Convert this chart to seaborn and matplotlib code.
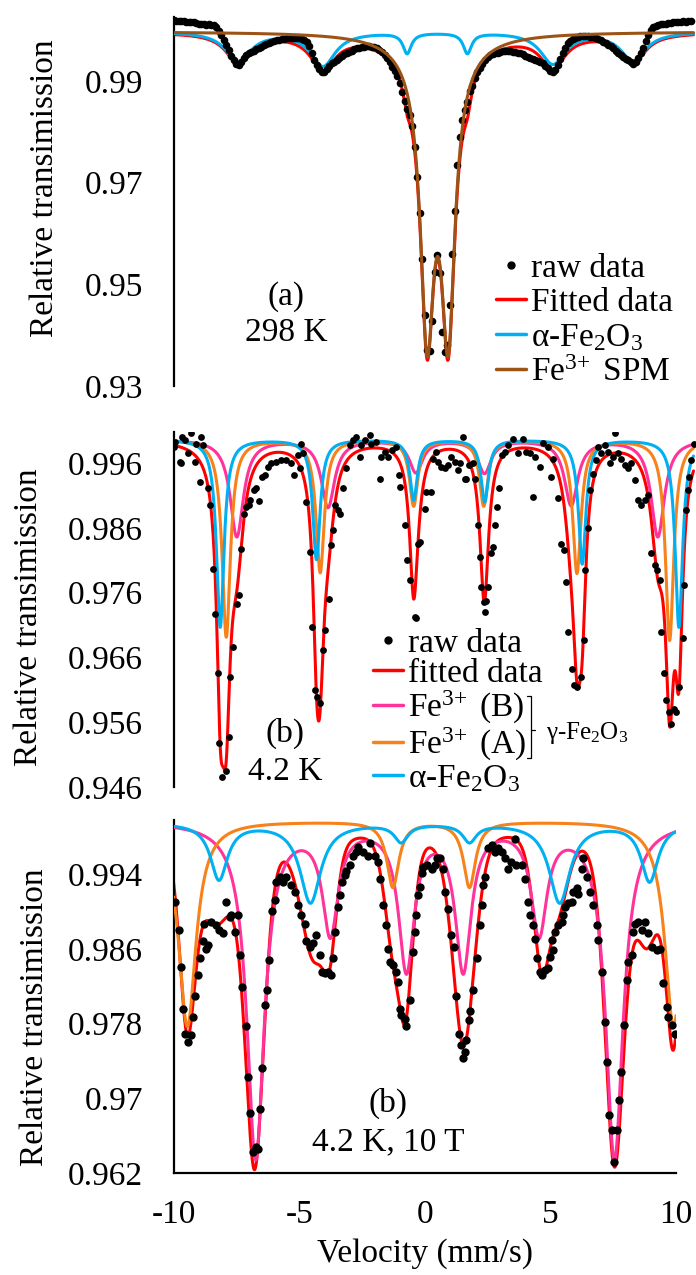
import numpy as np
import matplotlib
matplotlib.use("Agg")
import matplotlib.pyplot as plt
import seaborn as sns
from matplotlib.lines import Line2D

# ---------------- panel (a) : 298 K ----------------
vel_a_start, vel_a_stop = -10.0, 10.6   # 0.1 mm/s channels
trans_a = [
    1.0020, 1.0019, 1.0019, 1.0018, 1.0018, 1.0017, 1.0017, 1.0016, 1.0016, 1.0014,
    1.0013, 1.0013, 1.0012, 1.0011, 1.0012, 1.0011, 1.0010, 1.0006, 0.9999, 0.9991,
    0.9981, 0.9971, 0.9961, 0.9950, 0.9941, 0.9934, 0.9932, 0.9937, 0.9945, 0.9951,
    0.9955, 0.9958, 0.9960, 0.9962, 0.9964, 0.9967, 0.9970, 0.9972, 0.9974, 0.9976,
    0.9978, 0.9980, 0.9981, 0.9983, 0.9983, 0.9984, 0.9984, 0.9985, 0.9984, 0.9984,
    0.9984, 0.9983, 0.9981, 0.9976, 0.9968, 0.9956, 0.9942, 0.9931, 0.9923, 0.9918,
    0.9917, 0.9924, 0.9930, 0.9935, 0.9938, 0.9942, 0.9945, 0.9949, 0.9953, 0.9956,
    0.9958, 0.9960, 0.9962, 0.9964, 0.9965, 0.9966, 0.9967, 0.9968, 0.9968, 0.9967,
    0.9966, 0.9964, 0.9961, 0.9957, 0.9951, 0.9945, 0.9937, 0.9928, 0.9920, 0.9910,
    0.9897, 0.9878, 0.9860, 0.9844, 0.9834, 0.9812, 0.9770, 0.9712, 0.9641, 0.9550,
    0.9440, 0.9370, 0.9368, 0.9428, 0.9525, 0.9558, 0.9522, 0.9406, 0.9366, 0.9380,
    0.9460, 0.9560, 0.9645, 0.9735, 0.9790, 0.9824, 0.9842, 0.9858, 0.9880, 0.9890,
    0.9906, 0.9918, 0.9926, 0.9934, 0.9941, 0.9947, 0.9951, 0.9953, 0.9955, 0.9956,
    0.9958, 0.9959, 0.9960, 0.9960, 0.9959, 0.9958, 0.9957, 0.9956, 0.9955, 0.9953,
    0.9950, 0.9948, 0.9946, 0.9943, 0.9941, 0.9939, 0.9937, 0.9935, 0.9930, 0.9925,
    0.9920, 0.9918, 0.9922, 0.9932, 0.9944, 0.9955, 0.9965, 0.9974, 0.9979, 0.9982,
    0.9984, 0.9986, 0.9988, 0.9989, 0.9989, 0.9988, 0.9987, 0.9986, 0.9984, 0.9982,
    0.9980, 0.9977, 0.9975, 0.9971, 0.9968, 0.9964, 0.9960, 0.9955, 0.9951, 0.9947,
    0.9944, 0.9941, 0.9937, 0.9933, 0.9938, 0.9945, 0.9955, 0.9964, 0.9978, 0.9991,
    1.0000, 1.0007, 1.0009, 1.0011, 1.0012, 1.0012, 1.0013, 1.0014, 1.0015, 1.0016,
    1.0017, 1.0017, 1.0016, 1.0018, 1.0017, 1.0018, 1.0019,
]
base_a = 0.9997
spm_pos = [0.095, 0.935, 0.515]
spm_depth = [0.052, 0.052, 0.006]
spm_fwhm = [0.64, 0.64, 2.4]
hem_a_pos = [-7.42, -4.05, -0.70, 1.70, 5.10, 8.30]
hem_a_depth = [0.0058, 0.0066, 0.0040, 0.0040, 0.0062, 0.0056]
hem_a_fwhm = [1.2, 1.2, 0.4, 0.4, 1.2, 1.2]

# ---------------- panel (b) : 4.2 K ----------------
vel_b = [
    -10.00, -9.93, -9.76, -9.69, -9.65, -9.56, -9.43, -9.30, -9.16, -9.10, -8.96, -8.90,
    -8.83, -8.63, -8.54, -8.43, -8.33, -8.23, -8.17, -8.06, -7.93, -7.81, -7.77, -7.64,
    -7.48, -7.40, -7.30, -7.21, -7.13, -7.00, -6.94, -6.81, -6.71, -6.60, -6.47, -6.37,
    -6.24, -6.11, -5.91, -5.71, -5.51, -5.31, -5.22, -5.05,
    -4.98, -4.91, -4.85, -4.71, -4.58, -4.47, -4.38, -4.29, -4.16, -4.05, -3.96, -3.81,
    -3.72, -3.65, -3.56, -3.45, -3.36, -3.25, -3.12, -2.99, -2.86, -2.72, -2.59, -2.52,
    -2.39, -2.19, -2.12, -1.93, -1.79, -1.73, -1.59, -1.46, -1.29, -1.13, -1.02, -0.97,
    -0.80, -0.70, -0.60, -0.40, -0.33, -0.27, -0.17, 0.00, 0.07, 0.27, 0.33, 0.44,
    0.53, 0.66, 0.80, 0.93, 1.06, 1.20, 1.33, 1.39, 1.53, 1.59, 1.66, 1.76,
    1.92, 1.99, 2.13, 2.19, 2.26, 2.35, 2.39, 2.43, 2.52, 2.62, 2.73, 2.79,
    2.86, 2.97, 3.06, 3.19, 3.33, 3.53, 3.73, 3.92, 4.05, 4.18, 4.32, 4.38,
    4.58, 4.71,
    4.90, 5.03, 5.10, 5.30, 5.43, 5.54, 5.63, 5.72, 5.86, 5.96, 6.07, 6.23,
    6.33, 6.39, 6.52, 6.60, 6.69, 6.83, 6.89, 7.03, 7.16, 7.29, 7.36, 7.49,
    7.56, 7.69, 7.82, 7.96, 8.09, 8.22, 8.36, 8.49, 8.62, 8.75, 8.88, 9.02,
    9.15, 9.25, 9.35, 9.42, 9.52, 9.62, 9.72, 9.81, 9.92, 10.01, 10.14, 10.28,
    10.34, 10.41, 10.48, 10.54, 10.61, 10.71,
]
trans_b = [
    0.9985, 0.9993, 0.9962, 0.9960, 1.0001, 0.9996, 0.9975, 1.0007, 0.9962, 0.9990, 0.9931, 1.0000,
    0.9988, 0.9921, 0.9895, 0.9796, 0.9727, 0.9636, 0.9528, 0.9476, 0.9485, 0.9538, 0.9630, 0.9676,
    0.9742, 0.9757, 0.9828, 0.9882, 0.9893, 0.9895, 0.9903, 0.9918, 0.9921, 0.9902, 0.9939, 0.9941,
    0.9954, 0.9960, 0.9962, 0.9965, 0.9965, 0.9960, 0.9941, 0.9972,
    0.9952, 0.9990, 0.9975, 0.9900, 0.9823, 0.9707, 0.9610, 0.9599, 0.9589, 0.9671, 0.9702, 0.9751,
    0.9833, 0.9857, 0.9895, 0.9887, 0.9882, 0.9921, 0.9952, 0.9988, 0.9996, 1.0001, 0.9970, 0.9988,
    0.9996, 1.0003, 0.9990, 0.9993, 0.9936, 0.9970, 0.9977, 0.9970, 0.9980, 0.9985, 0.9942, 0.9923,
    0.9864, 0.9810, 0.9779, 0.9723, 0.9721, 0.9836, 0.9839, 0.9890, 0.9916, 0.9916, 0.9967, 0.9977,
    0.9962, 0.9954, 0.9952, 0.9957, 0.9970, 0.9962, 0.9949, 0.9960, 1.0001, 0.9936, 0.9936, 0.9957,
    0.9960, 0.9936, 0.9864, 0.9815, 0.9769, 0.9746, 0.9730, 0.9748, 0.9769, 0.9821, 0.9831, 0.9864,
    0.9893, 0.9921, 0.9972, 0.9977, 0.9988, 0.9998, 0.9975, 0.9998, 0.9977, 0.9975, 0.9908, 0.9970,
    0.9954, 0.9991,
    0.9985, 0.9939, 0.9967, 0.9906, 0.9836, 0.9826, 0.9777, 0.9700, 0.9643, 0.9617, 0.9615, 0.9630,
    0.9687, 0.9795, 0.9860, 0.9918, 0.9944, 0.9965, 0.9985, 0.9975, 0.9988, 0.9977, 0.9960, 0.9970,
    1.0006, 0.9975, 0.9967, 0.9957, 0.9952, 0.9960, 0.9934, 0.9903, 0.9895, 0.9903, 0.9911, 0.9821,
    0.9803, 0.9795, 0.9780, 0.9700, 0.9636, 0.9594, 0.9576, 0.9558, 0.9580, 0.9576, 0.9615, 0.9690,
    0.9772, 0.9887, 0.9918, 0.9939, 0.9965, 0.9990,
]
base_b = 0.9997
hem_b_pos = [-8.14, -4.31, -0.44, 2.39, 6.27, 10.12]
hem_b_depth = [0.0290, 0.0185, 0.0093, 0.0096, 0.0192, 0.0290]
hem_b_fwhm = [0.36] * 6
siteA_b_pos = [-7.90, -4.16, -0.44, 2.35, 6.06, 9.75]
siteA_b_depth = [0.0305, 0.0205, 0.0102, 0.0102, 0.0206, 0.0310]
siteA_b_fwhm = [0.40] * 6
siteB_b_pos = [-7.48, -3.85, -0.35, 2.38, 5.83, 9.28]
siteB_b_depth = [0.0150, 0.0104, 0.0050, 0.0051, 0.0101, 0.0150]
siteB_b_fwhm = [0.64] * 6
fit_b_extra_pos = [-8.02, -4.22, 6.12, 9.80]
fit_b_extra_depth = [0.004, 0.005, 0.002, 0.003]
fit_b_extra_fwhm = [0.40] * 4

# ---------------- panel (c) : 4.2 K, 10 T ----------------
vel_c = [
    -9.96, -9.79, -9.69, -9.63, -9.56, -9.43, -9.30, -9.23, -9.16, -9.03, -8.96, -8.83,
    -8.70, -8.63, -8.80, -8.50, -8.30, -8.17, -8.03, -7.90, -7.77, -7.70, -7.57, -7.44,
    -7.37, -7.26, -7.13, -7.04, -6.94, -6.84, -6.73, -6.64, -6.55, -6.47, -6.37, -6.28,
    -6.18, -6.07, -5.98, -5.91, -5.78, -5.64, -5.51, -5.31, -5.18, -5.05, -4.91, -4.78,
    -4.71, -4.58, -4.45, -4.32, -4.18, -4.08, -3.98,
    -3.85, -3.72, -3.65, -3.59, -3.45, -3.39, -3.28, -3.19, -3.12, -2.99, -2.86, -2.72,
    -2.66, -2.46, -2.26, -2.19, -1.99, -1.86, -1.79, -1.66, -1.55, -1.46, -1.39, -1.26,
    -1.13, -1.06, -1.00, -0.93, -0.80, -0.73, -0.60, -0.47, -0.40, -0.33, -0.27, -0.20,
    -0.13, -0.07, 0.07, 0.27, 0.40, 0.47, 0.60, 0.71, 0.80, 0.93, 1.06, 1.16,
    1.26, 1.37, 1.46, 1.53, 1.59, 1.66, 1.77, 1.82, 1.93, 2.06, 2.19, 2.26,
    2.32, 2.39, 2.52, 2.66, 2.79, 2.92, 3.06, 3.19, 3.32, 3.45, 3.59, 3.65,
    3.85, 3.98, 4.12, 4.18, 4.29, 4.38, 4.47, 4.58,
    4.65, 4.78, 4.91, 4.98, 5.05, 5.11, 5.18, 5.31, 5.45, 5.51, 5.58, 5.71,
    5.84, 5.91, 6.04, 6.11, 6.24, 6.28, 6.44, 6.57, 6.71, 6.84, 6.90, 7.04,
    7.17, 7.26, 7.34, 7.44, 7.54, 7.66, 7.74, 7.80, 7.93, 8.04, 8.10, 8.24,
    8.30, 8.37, 8.50, 8.63, 8.76, 8.90, 9.03, 9.23, 9.36, 9.49, 9.63, 9.69,
    9.83, 9.96,
]
trans_c = [
    0.9910, 0.9880, 0.9841, 0.9796, 0.9769, 0.9760, 0.9768, 0.9787, 0.9810, 0.9832, 0.9850, 0.9868,
    0.9860, 0.9864, 0.9887, 0.9889, 0.9885, 0.9880, 0.9877, 0.9910, 0.9894, 0.9896, 0.9878, 0.9896,
    0.9853, 0.9819, 0.9777, 0.9723, 0.9684, 0.9643, 0.9648, 0.9646, 0.9689, 0.9732, 0.9800, 0.9816,
    0.9848, 0.9900, 0.9912, 0.9932, 0.9937, 0.9932, 0.9937, 0.9928, 0.9921, 0.9907, 0.9896, 0.9887,
    0.9868, 0.9862, 0.9866, 0.9875, 0.9853, 0.9835, 0.9834,
    0.9835, 0.9832, 0.9850, 0.9878, 0.9905, 0.9918, 0.9932, 0.9939, 0.9943, 0.9950, 0.9959, 0.9964,
    0.9969, 0.9964, 0.9959, 0.9973, 0.9959, 0.9953, 0.9935, 0.9907, 0.9885, 0.9860, 0.9846, 0.9843,
    0.9835, 0.9825, 0.9796, 0.9789, 0.9785, 0.9777, 0.9805, 0.9857, 0.9878, 0.9896, 0.9918, 0.9926,
    0.9941, 0.9948, 0.9950, 0.9946, 0.9950, 0.9957, 0.9957, 0.9946, 0.9921, 0.9903, 0.9875, 0.9862,
    0.9809, 0.9769, 0.9757, 0.9743, 0.9750, 0.9762, 0.9784, 0.9793, 0.9816, 0.9850, 0.9885, 0.9907,
    0.9928, 0.9937, 0.9968, 0.9971, 0.9964, 0.9968, 0.9964, 0.9957, 0.9946, 0.9953, 0.9978, 0.9950,
    0.9950, 0.9935, 0.9910, 0.9896, 0.9885, 0.9871, 0.9850, 0.9835,
    0.9832, 0.9837, 0.9839, 0.9851, 0.9869, 0.9859, 0.9878, 0.9885, 0.9889, 0.9896, 0.9905, 0.9909,
    0.9910, 0.9921, 0.9925, 0.9919, 0.9946, 0.9957, 0.9937, 0.9921, 0.9907, 0.9885, 0.9869, 0.9835,
    0.9782, 0.9739, 0.9682, 0.9666, 0.9632, 0.9666, 0.9698, 0.9728, 0.9778, 0.9827, 0.9846, 0.9853,
    0.9878, 0.9887, 0.9889, 0.9880, 0.9889, 0.9877, 0.9862, 0.9859, 0.9860, 0.9823, 0.9798, 0.9787,
    0.9778, 0.9769,
]
base_c = 0.9997
siteB_c_pos = [-6.73, -3.76, -0.73, 1.53, 4.55, 7.55]
siteB_c_depth = [0.036, 0.0115, 0.0155, 0.0155, 0.0115, 0.036]
siteB_c_fwhm = [0.84, 0.76, 0.76, 0.76, 0.76, 0.84]
siteA_c_pos = [-9.45, -1.27, 1.78, 9.90]
siteA_c_depth = [0.022, 0.0070, 0.0070, 0.022]
siteA_c_fwhm = [0.84, 0.58, 0.58, 0.84]
hem_c_base = 0.9995
hem_c_pos = [-8.19, -4.55, -0.94, 1.78, 5.37, 8.95]
hem_c_depth = [0.0060, 0.0085, 0.0019, 0.0019, 0.0085, 0.0062]
hem_c_fwhm = [0.82, 1.0, 0.66, 0.66, 1.0, 0.82]
fit_c_pos = [-9.45, -8.3, -6.77, -4.45, -3.78, -1.3, -0.76, 1.55, 4.65, 5.35, 7.55, 8.85, 9.9]
fit_c_depth = [0.020, 0.009, 0.0355, 0.013, 0.0095, 0.010, 0.0175, 0.0235, 0.014, 0.007, 0.0355, 0.011, 0.022]
fit_c_fwhm = [0.75, 1.6, 0.9, 1.2, 0.65, 0.8, 0.7, 1.05, 0.8, 0.9, 0.9, 1.2, 0.7]
fit_c_eta = 0.4


def dips(v, pos, depth, fwhm, eta=1.0):
    out = np.zeros_like(v)
    for c, d, w in zip(pos, depth, fwhm):
        x = (v - c) / w
        out += d * (eta / (1 + 4 * x ** 2) + (1 - eta) * np.exp(-4 * np.log(2) * x ** 2))
    return out


RED = "#FF0000"
BLUE = "#00B0F0"
ORANGE = "#F7821B"
PINK = "#FF3399"
BROWN = "#9C5316"

sns.set_theme(style="white")
plt.rcParams["font.family"] = ["Liberation Serif", "DejaVu Serif"]
plt.rcParams.update({
    "mathtext.fontset": "custom",
    "mathtext.rm": "Liberation Serif",
    "mathtext.it": "Liberation Serif:italic",
    "mathtext.bf": "Liberation Serif:bold",
    "axes.unicode_minus": False,
    "text.color": "black",
    "axes.labelcolor": "black",
    "axes.edgecolor": "black",
    "xtick.color": "black",
    "ytick.color": "black",
})

fig = plt.figure(figsize=(6.96, 12.75), dpi=100)
ax_a = fig.add_axes([0.2493, 0.6973, 0.7507, 0.2894])
ax_b = fig.add_axes([0.2493, 0.3827, 0.7507, 0.2784])
ax_c = fig.add_axes([0.2493, 0.0800, 0.7220, 0.2769])

FS = 24
FE3 = "Fe$^{3\\!+}$"


def style(ax, ylim, ticks, labels, show_x, label_xy):
    ax.set_ylim(*ylim)
    ax.set_yticks(ticks)
    ax.set_yticklabels(labels)
    ax.spines["top"].set_visible(False)
    ax.spines["right"].set_visible(False)
    ax.spines["left"].set_linewidth(1.6)
    ax.tick_params(axis="y", direction="in", length=7, width=1.6, pad=22, labelsize=FS)
    if show_x:
        ax.spines["bottom"].set_linewidth(1.6)
        ax.tick_params(axis="x", direction="in", length=7, width=1.6, pad=19, labelsize=FS)
    else:
        ax.spines["bottom"].set_visible(False)
        ax.set_xticks([])
    ax.set_ylabel("Relative transimission", fontsize=FS)
    ax.yaxis.set_label_coords(*label_xy)
    ax.set_xlabel("")
    ax.patch.set_alpha(0)


# ---- (a)
v_ab = np.linspace(-10, 10.7, 2500)
vel_a = np.linspace(vel_a_start, vel_a_stop, len(trans_a))
spm_a = base_a - dips(v_ab, spm_pos, spm_depth, spm_fwhm)
hem_a = base_a - dips(v_ab, hem_a_pos, hem_a_depth, hem_a_fwhm)
fit_a = spm_a + hem_a - base_a
sns.lineplot(x=v_ab, y=fit_a, ax=ax_a, color=RED, lw=2.2, zorder=2, legend=False)
sns.lineplot(x=v_ab, y=hem_a, ax=ax_a, color=BLUE, lw=2.2, zorder=3, legend=False)
sns.scatterplot(x=vel_a, y=trans_a, ax=ax_a, color="black", s=30, linewidth=0, zorder=4, legend=False)
sns.lineplot(x=v_ab, y=spm_a, ax=ax_a, color=BROWN, lw=2.2, zorder=5, legend=False)
ax_a.set_xlim(-10, 10.8)
style(ax_a, (0.93, 1.0026), [0.93, 0.95, 0.97, 0.99], ["0.93", "0.95", "0.97", "0.99"],
      False, (-0.217, 0.537))
ax_a.text(0.2155, 0.241, "(a)", transform=ax_a.transAxes, ha="center", va="center", fontsize=FS)
ax_a.text(0.2155, 0.144, "298 K", transform=ax_a.transAxes, ha="center", va="center", fontsize=FS)
h_a = [Line2D([], [], ls="none", marker="o", ms=5, color="black"),
       Line2D([], [], color=RED, lw=2.5),
       Line2D([], [], color=BLUE, lw=2.5),
       Line2D([], [], color=BROWN, lw=2.5)]
ax_a.legend(h_a, ["raw data", "Fitted data", "α-Fe$_2$O$_3$", FE3 + " SPM"],
            loc="upper left", bbox_to_anchor=(0.617, 0.36), frameon=False, fontsize=FS,
            handlelength=0.9, handletextpad=0.15, labelspacing=0.12, borderpad=0, borderaxespad=0)

# ---- (b)
hem_b = base_b - dips(v_ab, hem_b_pos, hem_b_depth, hem_b_fwhm)
siteA_b = base_b - dips(v_ab, siteA_b_pos, siteA_b_depth, siteA_b_fwhm)
siteB_b = base_b - dips(v_ab, siteB_b_pos, siteB_b_depth, siteB_b_fwhm)
fit_b = (hem_b + siteA_b + siteB_b - 2 * base_b
         - dips(v_ab, fit_b_extra_pos, fit_b_extra_depth, fit_b_extra_fwhm))
sns.lineplot(x=v_ab, y=fit_b, ax=ax_b, color=RED, lw=2.2, zorder=2, legend=False)
sns.lineplot(x=v_ab, y=siteB_b, ax=ax_b, color=PINK, lw=2.2, zorder=3, legend=False)
sns.lineplot(x=v_ab, y=siteA_b, ax=ax_b, color=ORANGE, lw=2.2, zorder=4, legend=False)
sns.lineplot(x=v_ab, y=hem_b, ax=ax_b, color=BLUE, lw=2.2, zorder=5, legend=False)
sns.scatterplot(x=vel_b, y=trans_b, ax=ax_b, color="black", s=24, linewidth=0, zorder=6, legend=False)
ax_b.set_xlim(-10, 10.8)
style(ax_b, (0.946, 1.0008), [0.946, 0.956, 0.966, 0.976, 0.986, 0.996],
      ["0.946", "0.956", "0.966", "0.976", "0.986", "0.996"], False, (-0.248, 0.479))
ax_b.text(0.2136, 0.152, "(b)", transform=ax_b.transAxes, ha="center", va="center", fontsize=FS)
ax_b.text(0.2136, 0.042, "4.2 K", transform=ax_b.transAxes, ha="center", va="center", fontsize=FS)
h_b = [Line2D([], [], ls="none", marker="o", ms=5, color="black"),
       Line2D([], [], color=RED, lw=2.5),
       Line2D([], [], color=PINK, lw=2.5),
       Line2D([], [], color=ORANGE, lw=2.5),
       Line2D([], [], color=BLUE, lw=2.5)]
ax_b.legend(h_b, ["raw data", "fitted data", FE3 + " (B)", FE3 + " (A)", "α-Fe$_2$O$_3$"],
            loc="upper left", bbox_to_anchor=(0.382, 0.448), frameon=False, fontsize=FS,
            handlelength=0.9, handletextpad=0.15, labelspacing=0.0, borderpad=0, borderaxespad=0)
# bracket grouping the two gamma-Fe2O3 sites
ax_b.plot([0.677, 0.684, 0.684, 0.677], [0.256, 0.256, 0.082, 0.082], transform=ax_b.transAxes,
          color="black", lw=0.9, clip_on=False)
ax_b.plot([0.684, 0.692], [0.161, 0.161], transform=ax_b.transAxes, color="black", lw=0.9, clip_on=False)
ax_b.text(0.713, 0.152, "γ-Fe$_2$O$_3$", transform=ax_b.transAxes, ha="left", va="center", fontsize=18)

# ---- (c)
v_c = np.linspace(-10, 10, 2500)
siteB_c = base_c - dips(v_c, siteB_c_pos, siteB_c_depth, siteB_c_fwhm)
siteA_c = base_c - dips(v_c, siteA_c_pos, siteA_c_depth, siteA_c_fwhm)
hem_c = hem_c_base - dips(v_c, hem_c_pos, hem_c_depth, hem_c_fwhm)
fit_c = base_c - dips(v_c, fit_c_pos, fit_c_depth, fit_c_fwhm, fit_c_eta)
sns.lineplot(x=v_c, y=fit_c, ax=ax_c, color=RED, lw=2.2, zorder=2, legend=False)
sns.lineplot(x=v_c, y=siteB_c, ax=ax_c, color=PINK, lw=2.2, zorder=3, legend=False)
sns.lineplot(x=v_c, y=siteA_c, ax=ax_c, color=ORANGE, lw=2.2, zorder=4, legend=False)
sns.lineplot(x=v_c, y=hem_c, ax=ax_c, color=BLUE, lw=2.2, zorder=5, legend=False)
sns.scatterplot(x=vel_c, y=trans_c, ax=ax_c, color="black", s=36, linewidth=0, zorder=6, legend=False)
ax_c.set_xlim(-10, 10)
ax_c.set_xticks([-10, -5, 0, 5, 10])
ax_c.set_xticklabels(["-10", "-5", "0", "5", "10"])
style(ax_c, (0.962, 0.9998), [0.962, 0.970, 0.978, 0.986, 0.994],
      ["0.962", "0.97", "0.978", "0.986", "0.994"], True, (-0.246, 0.442))
ax_c.set_xlabel("Velocity (mm/s)", fontsize=FS, labelpad=6)
ax_c.text(0.427, 0.197, "(b)", transform=ax_c.transAxes, ha="center", va="center", fontsize=FS)
ax_c.text(0.427, 0.089, "4.2 K, 10 T", transform=ax_c.transAxes, ha="center", va="center", fontsize=FS)

fig.savefig("out.png", dpi=100)
plt.close(fig)
